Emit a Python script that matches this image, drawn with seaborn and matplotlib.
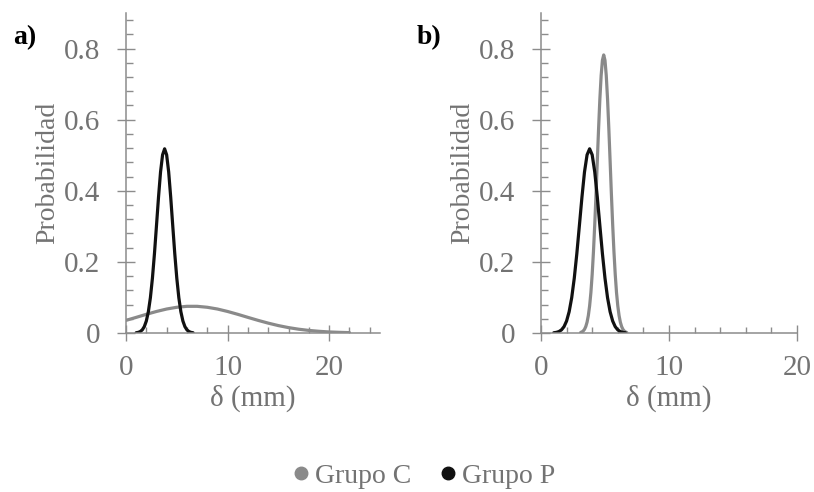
import seaborn as sns
import matplotlib.pyplot as plt
import pandas as pd
from matplotlib.lines import Line2D
from matplotlib.ticker import MultipleLocator, FuncFormatter

# curve values (delta in mm, probabilidad)
p_x = [1.0, 1.2, 1.4, 1.6, 1.8, 2.0, 2.2, 2.4, 2.6, 2.8, 3.0, 3.2, 3.4, 3.6, 3.8,
       4.0, 4.2, 4.4, 4.6, 4.8, 5.0, 5.2, 5.4, 5.6, 5.8, 6.0, 6.2, 6.4, 6.6]
p_y = [0.0007, 0.0017, 0.0040, 0.0087, 0.0178, 0.0337, 0.0598, 0.0992, 0.154, 0.223,
       0.302, 0.382, 0.453, 0.501, 0.518, 0.501, 0.453, 0.382, 0.302, 0.223, 0.154,
       0.0992, 0.0598, 0.0337, 0.0178, 0.0087, 0.0040, 0.0017, 0.0007]

ca_x = [0, 1, 2, 3, 4, 5, 6, 7, 8, 9, 10, 11, 12, 13, 14, 15, 16, 17, 18, 19, 20, 21, 22]
ca_y = [0.0355, 0.0439, 0.0525, 0.0605, 0.0674, 0.0723, 0.0750, 0.0750, 0.0723, 0.0674,
        0.0605, 0.0525, 0.0439, 0.0355, 0.0277, 0.0208, 0.0151, 0.0106, 0.0072, 0.0047,
        0.0029, 0.0018, 0.0010]

cb_x = [3.1, 3.2, 3.3, 3.4, 3.5, 3.6, 3.7, 3.8, 3.9, 4.0, 4.1, 4.2, 4.3, 4.4, 4.5, 4.6,
        4.7, 4.8, 4.9, 5.0, 5.1, 5.2, 5.3, 5.4, 5.5, 5.6, 5.7, 5.8, 5.9, 6.0, 6.1, 6.2,
        6.3, 6.4, 6.5, 6.6, 6.7]
cb_y = [0.0015, 0.0030, 0.0057, 0.0103, 0.0181, 0.0304, 0.0491, 0.0764, 0.114, 0.165,
        0.229, 0.305, 0.391, 0.484, 0.575, 0.658, 0.724, 0.767, 0.782, 0.767, 0.724,
        0.658, 0.575, 0.484, 0.391, 0.305, 0.229, 0.165, 0.114, 0.0764, 0.0491, 0.0304,
        0.0181, 0.0103, 0.0057, 0.0030, 0.0015]

grupos = ['Grupo C', 'Grupo P']
colores = {'Grupo C': '#8a8a8a', 'Grupo P': '#111111'}

df_a = pd.concat([
    pd.DataFrame({'d': ca_x, 'p': ca_y, 'grupo': 'Grupo C'}),
    pd.DataFrame({'d': p_x, 'p': p_y, 'grupo': 'Grupo P'}),
])
df_b = pd.concat([
    pd.DataFrame({'d': cb_x, 'p': cb_y, 'grupo': 'Grupo C'}),
    pd.DataFrame({'d': p_x, 'p': p_y, 'grupo': 'Grupo P'}),
])

sns.set_style('ticks')
plt.rcParams['font.family'] = ['Liberation Serif', 'DejaVu Serif']

gris = '#8c8c8c'
txt = '#737373'

fig = plt.figure(figsize=(8.14, 4.92), dpi=100)
ax1 = fig.add_axes([0.1548, 0.3232, 0.3120, 0.6504])
ax2 = fig.add_axes([0.6646, 0.3232, 0.3145, 0.6504])

for ax, df, xmax in [(ax1, df_a, 25), (ax2, df_b, 20)]:
    sns.lineplot(data=df, x='d', y='p', hue='grupo', hue_order=grupos, palette=colores,
                 ax=ax, legend=False, linewidth=2.3, sort=False)
    ax.set_xlim(0, xmax)
    ax.set_ylim(0, 0.9)
    ax.xaxis.set_major_locator(MultipleLocator(10))
    ax.xaxis.set_minor_locator(MultipleLocator(2))
    ax.yaxis.set_major_locator(MultipleLocator(0.2))
    ax.yaxis.set_minor_locator(MultipleLocator(0.04))
    ax.yaxis.set_major_formatter(FuncFormatter(lambda v, pos: '0' if abs(v) < 1e-9 else f'{v:.1f}'))
    ax.xaxis.set_major_formatter(FuncFormatter(lambda v, pos: f'{v:.0f}'))
    sns.despine(ax=ax)
    for s in ['left', 'bottom']:
        ax.spines[s].set_color(gris)
        ax.spines[s].set_linewidth(1.1)
    ax.tick_params(axis='y', which='major', direction='inout', length=13, width=1, color=gris,
                   labelsize=21, labelcolor=txt, pad=12)
    ax.tick_params(axis='y', which='minor', direction='in', length=5, width=1, color=gris)
    ax.tick_params(axis='x', which='major', direction='inout', length=11, width=1, color=gris,
                   labelsize=21, labelcolor=txt, pad=10)
    ax.tick_params(axis='x', which='minor', direction='in', length=4, width=1, color=gris)
    ax.set_xlabel('δ (mm)', fontsize=21, color=txt, labelpad=3)
    ax.set_ylabel('Probabilidad', fontsize=20, color=txt, labelpad=3)

fig.text(0.016, 0.924, 'a)', fontsize=20, fontweight='bold', color='black', ha='left', va='center')
fig.text(0.512, 0.924, 'b)', fontsize=20, fontweight='bold', color='black', ha='left', va='center')

handles = [Line2D([], [], marker='o', linestyle='', markersize=9, color=colores[g]) for g in grupos]
fig.legend(handles, grupos, loc='center', bbox_to_anchor=(0.52, 0.032), ncol=2, frameon=False,
           fontsize=20, handlelength=0.7, handletextpad=0.15, columnspacing=1.0,
           labelcolor=txt, borderpad=0)

fig.savefig('out.png', dpi=100)
